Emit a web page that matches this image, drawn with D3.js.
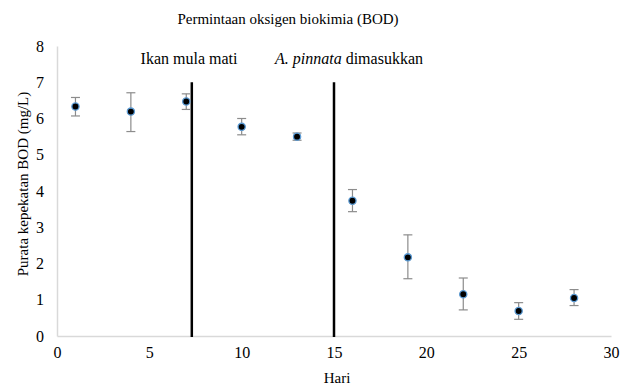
<!DOCTYPE html>
<html>
<head>
<meta charset="utf-8">
<script src="https://cdn.jsdelivr.net/npm/d3@7"></script>
<style>
  body { margin: 0; background: #fff; }
  svg text { font-family: "Liberation Serif", "Times New Roman", serif !important; fill: #000; }
</style>
</head>
<body>
<div id="chart"></div>
<script>
// day, mean BOD, error bar low / high
const days = [1, 4, 7, 10, 13, 16, 19, 22, 25, 28];
const bodMean = [6.33, 6.19, 6.47, 5.77, 5.50, 3.73, 2.17, 1.15, 0.69, 1.05];
const bodLow = [6.07, 5.64, 6.25, 5.55, 5.40, 3.43, 1.58, 0.72, 0.46, 0.84];
const bodHigh = [6.58, 6.71, 6.68, 6.00, 5.60, 4.04, 2.79, 1.60, 0.92, 1.28];
const xTicks = [0, 5, 10, 15, 20, 25, 30];
const yTicks = [0, 1, 2, 3, 4, 5, 6, 7, 8];
const markerDays = [7.3, 15];
const markerTop = 7;

const width = 630, height = 387;
const margin = { top: 46, right: 19, bottom: 51, left: 57 };
const serif = '"Liberation Serif", "Times New Roman", serif';

const svg = d3.select('#chart').append('svg')
  .attr('width', width)
  .attr('height', height);

const x = d3.scaleLinear().domain([0, 30]).range([margin.left, width - margin.right]);
const y = d3.scaleLinear().domain([0, 8]).range([height - margin.bottom, margin.top]);

/* ---------- axes ---------- */
const xAxis = svg.append('g')
  .attr('transform', 'translate(0,' + y(0) + ')')
  .call(d3.axisBottom(x).tickValues(xTicks).tickSize(0).tickPadding(11))
  .attr('font-family', serif).attr('font-size', 16);
xAxis.select('.domain').attr('stroke', '#d9d9d9').attr('stroke-width', 1.5);

const yAxis = svg.append('g')
  .attr('transform', 'translate(' + x(0) + ',0)')
  .call(d3.axisLeft(y).tickValues(yTicks).tickSize(0).tickPadding(13))
  .attr('font-family', serif).attr('font-size', 16);
yAxis.select('.domain').attr('stroke', '#d9d9d9').attr('stroke-width', 1.5);

/* ---------- vertical event lines ---------- */
svg.selectAll('.event').data(markerDays).enter().append('line')
  .attr('class', 'event')
  .attr('x1', d => x(d)).attr('x2', d => x(d))
  .attr('y1', y(markerTop)).attr('y2', y(0) + 1)
  .attr('stroke', '#000').attr('stroke-width', 2.5);

/* ---------- error bars ---------- */
const pts = days.map((d, i) => ({ day: d, mean: bodMean[i], lo: bodLow[i], hi: bodHigh[i] }));
const err = svg.append('g').attr('stroke', '#8c8c8c').attr('stroke-width', 1.2);
err.selectAll('.stem').data(pts).enter().append('line')
  .attr('x1', d => x(d.day)).attr('x2', d => x(d.day))
  .attr('y1', d => y(d.lo)).attr('y2', d => y(d.hi));
err.selectAll('.capHi').data(pts).enter().append('line')
  .attr('x1', d => x(d.day) - 4.5).attr('x2', d => x(d.day) + 4.5)
  .attr('y1', d => y(d.hi)).attr('y2', d => y(d.hi));
err.selectAll('.capLo').data(pts).enter().append('line')
  .attr('x1', d => x(d.day) - 4.5).attr('x2', d => x(d.day) + 4.5)
  .attr('y1', d => y(d.lo)).attr('y2', d => y(d.lo));

/* ---------- points ---------- */
svg.selectAll('.pt').data(pts).enter().append('circle')
  .attr('cx', d => x(d.day)).attr('cy', d => y(d.mean))
  .attr('r', 3.6)
  .attr('fill', '#000')
  .attr('stroke', '#5b9bd5').attr('stroke-width', 1.3);

/* ---------- titles ---------- */
svg.append('text')
  .attr('x', 288).attr('y', 24)
  .attr('text-anchor', 'middle').style('font-size', '15px')
  .text('Permintaan oksigen biokimia (BOD)');

svg.append('text')
  .attr('x', 189).attr('y', 64)
  .attr('text-anchor', 'middle').style('font-size', '16px')
  .text('Ikan mula mati');

const ann = svg.append('text')
  .attr('x', 349).attr('y', 64)
  .attr('text-anchor', 'middle').style('font-size', '16px');
ann.append('tspan').style('font-style', 'italic').text('A. pinnata');
ann.append('tspan').text(' dimasukkan');

svg.append('text')
  .attr('x', 337).attr('y', 383)
  .attr('text-anchor', 'middle').style('font-size', '15px')
  .text('Hari');

svg.append('text')
  .attr('transform', 'translate(28,184) rotate(-90)')
  .attr('text-anchor', 'middle').style('font-size', '15px')
  .text('Purata kepekatan BOD (mg/L)');
</script>
</body>
</html>
